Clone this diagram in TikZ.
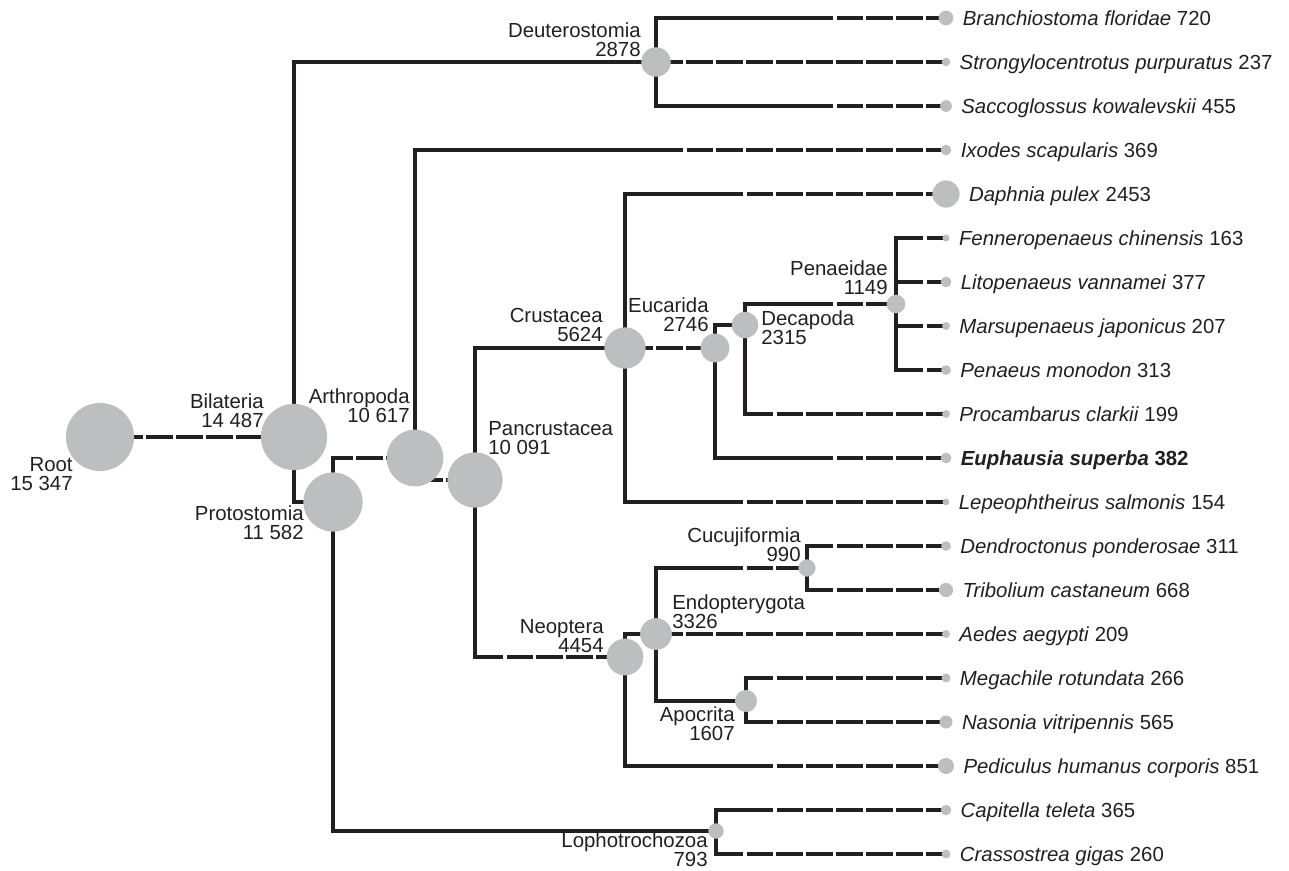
\documentclass[tikz,border=0pt]{standalone}
\usepackage{fontspec}
\setmainfont{Liberation Sans}
\usetikzlibrary{positioning}
\definecolor{TreeInk}{RGB}{35, 31, 32}
\definecolor{CladeGray}{RGB}{188, 190, 192}
\pgfdeclarelayer{branches}
\pgfsetlayers{branches,main}

\begin{document}
\begin{tikzpicture}[x=0.02cm, y=-0.02cm,
    clade/.style={circle, fill=CladeGray, inner sep=0pt, minimum size={0.011cm*sqrt(#1)}},
    cladelab/.style={inner sep=0pt, text=TreeInk, font=\fontsize{11.6pt}{10.8pt}\selectfont},
    leaflab/.style={cladelab, text height=8.3pt, text depth=0pt},
    branch/.style={draw=TreeInk, line width=1.8pt},
    ext/.style={dash pattern=on 15.08pt off 1.99pt, dash phase=15.08pt}]
    \useasboundingbox (0,0) rectangle (1289,870);

    % Rejilla de tiempo
    \foreach \k in {0,...,28} \coordinate (g\k) at ({113+30*\k},0);

    % Clados internos
    \node[clade=15347] (root) at (100,437) {};
    \node[clade=14487] (bil) at (294,437) {};
    \node[clade=11582] (pro) at (333,502) {};
    \node[clade=2878] (deu) at (656,62) {};
    \node[clade=10617] (art) at (415,458) {};
    \node[clade=10091] (pan) at (475,480) {};
    \node[clade=5624] (cru) at (625,348) {};
    \node[clade=2746] (euc) at (715,348) {};
    \node[clade=2315] (dec) at (745,325) {};
    \node[clade=1149] (pen) at (896,304) {};
    \node[clade=4454] (neo) at (625,657) {};
    \node[clade=3326] (endo) at (656,634) {};
    \node[clade=990] (cuc) at (807,568) {};
    \node[clade=1607] (apo) at (746,701) {};
    \node[clade=793] (lop) at (716,831) {};

    \node[cladelab, align=right, anchor=north east] (root-l) at (73,457) {Root\\15 347};
    \node[cladelab, align=right, anchor=south east] (bil-l) at (264,428) {Bilateria\\14 487};
    \node[cladelab, align=right, anchor=north east] (pro-l) at (304,505) {Protostomia\\11 582};
    \node[cladelab, align=right, anchor=south east] (deu-l) at (641,57) {Deuterostomia\\2878};
    \node[cladelab, align=right, anchor=south east] (art-l) at (410,423) {Arthropoda\\10 617};
    \node[cladelab, align=left, anchor=south west] (pan-l) at (488,455) {Pancrustacea\\10 091};
    \node[cladelab, align=right, anchor=south east] (cru-l) at (603,342) {Crustacea\\5624};
    \node[cladelab, align=right, anchor=south east] (euc-l) at (709,332) {Eucarida\\2746};
    \node[cladelab, align=left, anchor=north west] (dec-l) at (761,310) {Decapoda\\2315};
    \node[cladelab, align=right, anchor=south east] (pen-l) at (888,295) {Penaeidae\\1149};
    \node[cladelab, align=right, anchor=south east] (neo-l) at (604,653) {Neoptera\\4454};
    \node[cladelab, align=left, anchor=south west] (endo-l) at (672,629) {Endopterygota\\3326};
    \node[cladelab, align=right, anchor=south east] (cuc-l) at (801,562) {Cucujiformia\\990};
    \node[cladelab, align=right, anchor=north east] (apo-l) at (735,706) {Apocrita\\1607};
    \node[cladelab, align=right, anchor=south east] (lop-l) at (708,867) {Lophotrochozoa\\793};

    % Especies
    \node[clade=720] (bra) at (946,18) {};
    \node[leaflab, right=5pt of bra] (bra-l) {\textit{Branchiostoma floridae} 720};
    \node[clade=237] (str) at (946,62) {};
    \node[leaflab, right=5pt of str] (str-l) {\textit{Strongylocentrotus purpuratus} 237};
    \node[clade=455] (sac) at (946,106) {};
    \node[leaflab, right=5pt of sac] (sac-l) {\textit{Saccoglossus kowalevskii} 455};
    \node[clade=369] (ixo) at (946,150) {};
    \node[leaflab, right=5pt of ixo] (ixo-l) {\textit{Ixodes scapularis} 369};
    \node[clade=2453] (dap) at (946,194) {};
    \node[leaflab, right=5pt of dap] (dap-l) {\textit{Daphnia pulex} 2453};
    \node[clade=163] (fen) at (946,238) {};
    \node[leaflab, right=5pt of fen] (fen-l) {\textit{Fenneropenaeus chinensis} 163};
    \node[clade=377] (lit) at (946,282) {};
    \node[leaflab, right=5pt of lit] (lit-l) {\textit{Litopenaeus vannamei} 377};
    \node[clade=207] (mar) at (946,326) {};
    \node[leaflab, right=5pt of mar] (mar-l) {\textit{Marsupenaeus japonicus} 207};
    \node[clade=313] (pmo) at (946,370) {};
    \node[leaflab, right=5pt of pmo] (pmo-l) {\textit{Penaeus monodon} 313};
    \node[clade=199] (pcl) at (946,414) {};
    \node[leaflab, right=5pt of pcl] (pcl-l) {\textit{Procambarus clarkii} 199};
    \node[clade=382] (eup) at (946,458) {};
    \node[leaflab, right=5pt of eup] (eup-l) {\textbf{\textit{Euphausia superba} 382}};
    \node[clade=154] (lep) at (946,502) {};
    \node[leaflab, right=5pt of lep] (lep-l) {\textit{Lepeophtheirus salmonis} 154};
    \node[clade=311] (den) at (946,546) {};
    \node[leaflab, right=5pt of den] (den-l) {\textit{Dendroctonus ponderosae} 311};
    \node[clade=668] (tri) at (946,590) {};
    \node[leaflab, right=5pt of tri] (tri-l) {\textit{Tribolium castaneum} 668};
    \node[clade=209] (aed) at (946,634) {};
    \node[leaflab, right=5pt of aed] (aed-l) {\textit{Aedes aegypti} 209};
    \node[clade=266] (meg) at (946,678) {};
    \node[leaflab, right=5pt of meg] (meg-l) {\textit{Megachile rotundata} 266};
    \node[clade=565] (nas) at (946,722) {};
    \node[leaflab, right=5pt of nas] (nas-l) {\textit{Nasonia vitripennis} 565};
    \node[clade=851] (ped) at (946,766) {};
    \node[leaflab, right=5pt of ped] (ped-l) {\textit{Pediculus humanus corporis} 851};
    \node[clade=365] (cte) at (946,810) {};
    \node[leaflab, right=5pt of cte] (cte-l) {\textit{Capitella teleta} 365};
    \node[clade=260] (cra) at (946,854) {};
    \node[leaflab, right=5pt of cra] (cra-l) {\textit{Crassostrea gigas} 260};

    % Ramas
    \begin{pgfonlayer}{branches}
    \draw[branch, ext] (root.center -| g0) -- (bil.center);
    \draw[branch] (bil.center) |- (deu.center);
    \draw[branch] (bil.center) |- (pro.center);
    \draw[branch] (deu.center) |- (bra.center -| g24) edge[ext] (bra.center);
    \draw[branch, ext] (deu.center -| g18) -- (str.center);
    \draw[branch] (deu.center) |- (sac.center -| g24) edge[ext] (sac.center);
    \draw[branch] (pro.center) |- (art.center -| g8) edge[ext] (art.center);
    \draw[branch] (pro.center) |- (lop.center);
    \draw[branch] (art.center) |- (ixo.center -| g19) edge[ext] (ixo.center);
    \draw[branch] (art.center) |- (pan.center -| g10) edge[ext] (pan.center);
    \draw[branch] (pan.center) |- (cru.center);
    \draw[branch] (pan.center) |- (neo.center -| g13) edge[ext] (neo.center);
    \draw[branch] (cru.center) |- (dap.center -| g21) edge[ext] (dap.center);
    \draw[branch, ext] (cru.center -| g17) -- (euc.center);
    \draw[branch] (cru.center) |- (lep.center -| g21) edge[ext] (lep.center);
    \draw[branch] (euc.center) |- (dec.center);
    \draw[branch] (euc.center) |- (eup.center -| g24) edge[ext] (eup.center);
    \draw[branch] (dec.center) |- (pen.center -| g24) edge[ext] (pen.center);
    \draw[branch] (dec.center) |- (pcl.center -| g22) edge[ext] (pcl.center);
    \foreach \s in {fen,lit,mar,pmo}
        \draw[branch] (pen.center) |- (\s.center -| g27) edge[ext] (\s.center);
    \draw[branch] (neo.center) |- (endo.center);
    \draw[branch] (neo.center) |- (ped.center -| g22) edge[ext] (ped.center);
    \draw[branch] (endo.center) |- (cuc.center -| g21) edge[ext] (cuc.center);
    \draw[branch, ext] (endo.center -| g18) -- (aed.center);
    \draw[branch] (endo.center) |- (apo.center);
    \foreach \s in {den,tri}
        \draw[branch] (cuc.center) |- (\s.center -| g24) edge[ext] (\s.center);
    \foreach \s in {meg,nas}
        \draw[branch] (apo.center) |- (\s.center -| g22) edge[ext] (\s.center);
    \draw[branch] (lop.center) |- (cte.center -| g22) edge[ext] (cte.center);
    \draw[branch] (lop.center) |- (cra.center -| g21) edge[ext] (cra.center);
    \end{pgfonlayer}
\end{tikzpicture}
\end{document}
